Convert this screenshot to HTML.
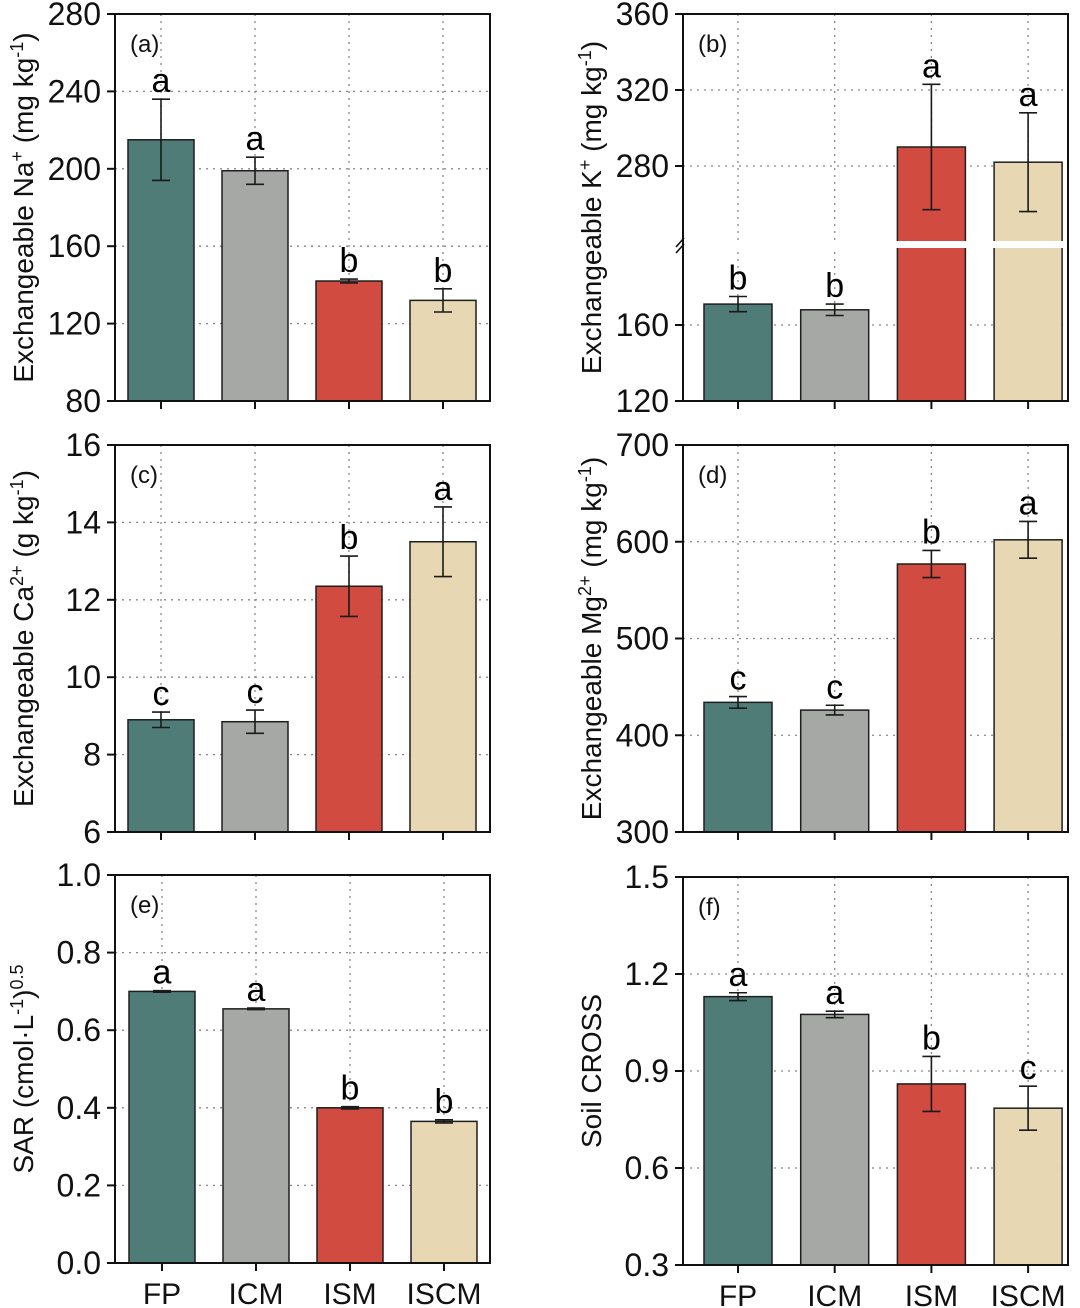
<!DOCTYPE html>
<html><head><meta charset="utf-8"><style>
html,body{margin:0;padding:0;background:#fff;}
svg{display:block;font-family:"Liberation Sans",Arial,sans-serif;}
</style></head><body>
<svg id="fig" width="1080" height="1308" viewBox="0 0 1080 1308" xmlns="http://www.w3.org/2000/svg"></svg>
<script>
const categories = ["FP","ICM","ISM","ISCM"];
const barColors = ["#4f7c77","#a6a8a6","#d14b40","#e7d7b3"];
// panel data
const naValues = [215,199,142,132];
const naErrors = [21,7,1,6];
const naLetters = ["a","a","b","b"];
const naTicks = [80,120,160,200,240,280];
const kValues = [171,168,290,282];
const kErrors = [4,3,33,26];
const kLetters = ["b","b","a","a"];
const kTicks = [120,160,280,320,360];
const caValues = [8.9,8.85,12.35,13.5];
const caErrors = [0.2,0.3,0.78,0.9];
const caLetters = ["c","c","b","a"];
const caTicks = [6,8,10,12,14,16];
const mgValues = [434,426,577,602];
const mgErrors = [6,5,14,19];
const mgLetters = ["c","c","b","a"];
const mgTicks = [300,400,500,600,700];
const sarValues = [0.70,0.655,0.40,0.365];
const sarErrors = [0.002,0.002,0.003,0.004];
const sarLetters = ["a","a","b","b"];
const sarTicks = ["0.0","0.2","0.4","0.6","0.8","1.0"];
const crossValues = [1.13,1.075,0.86,0.785];
const crossErrors = [0.012,0.01,0.085,0.068];
const crossLetters = ["a","a","b","c"];
const crossTicks = ["0.3","0.6","0.9","1.2","1.5"];

const NS="http://www.w3.org/2000/svg";
const svg=document.getElementById('fig');
function mk(tag,attrs,parent){const e=document.createElementNS(NS,tag);for(const k in attrs)e.setAttribute(k,attrs[k]);(parent||svg).appendChild(e);return e;}

const panels=[
 {id:'a',L:115,R:490,T:14,B:401,min:80,max:280,ticks:naTicks,vals:naValues,errs:naErrors,lets:naLetters,c0:46,sp:94,bw:66,tx:33,title:[["Exchangeable Na",0],["+",1],[" (mg kg",0],["-1",1],[")",0]]},
 {id:'b',L:683,R:1068,T:14,B:401,min:120,max:360,ticks:kTicks,vals:kValues,errs:kErrors,lets:kLetters,c0:55,sp:96.7,bw:68,tx:601,brk:true,title:[["Exchangeable K",0],["+",1],["  (mg kg",0],["-1",1],[")",0]]},
 {id:'c',L:115,R:490,T:445,B:832,min:6,max:16,ticks:caTicks,vals:caValues,errs:caErrors,lets:caLetters,c0:46,sp:94,bw:66,tx:33,title:[["Exchangeable Ca",0],["2+",1],["  (g kg",0],["-1",1],[")",0]]},
 {id:'d',L:683,R:1068,T:445,B:832,min:300,max:700,ticks:mgTicks,vals:mgValues,errs:mgErrors,lets:mgLetters,c0:55,sp:96.7,bw:68,tx:601,title:[["Exchangeable Mg",0],["2+",1],["  (mg kg",0],["-1",1],[")",0]]},
 {id:'e',L:115,R:490,T:875,B:1263,min:0,max:1.0,ticks:sarTicks,vals:sarValues,errs:sarErrors,lets:sarLetters,c0:47,sp:94,bw:66,tx:33,xl:true,title:[["SAR (cmol·L",0],["-1",1],[")",0],["0.5",1]]},
 {id:'f',L:683,R:1068,T:877,B:1265,min:0.3,max:1.5,ticks:crossTicks,vals:crossValues,errs:crossErrors,lets:crossLetters,c0:55,sp:96.7,bw:68,tx:601,xl:true,title:[["Soil CROSS",0]]}
];

panels.forEach(p=>{
  const g=mk('g',{});
  
  
  let yS;
  if(p.brk){
    const k=1.9;
    yS=v=> v<=205 ? p.B-(v-p.min)*k : p.T+(p.max-v)*k;
  } else {
    yS=v=>p.B-(v-p.min)/(p.max-p.min)*(p.B-p.T);
  }
  const xC=i=>p.L+p.c0+i*p.sp;
  p.ticks.forEach(t=>{const v=+t;if(v===p.min||v===p.max)return;
    const l=mk('line',{x1:p.L,x2:p.R,y1:yS(v),y2:yS(v),stroke:'#888','stroke-width':1.3,'stroke-dasharray':'2 5'},g);
    });
  categories.forEach((c,i)=>{const l=mk('line',{x1:xC(i),x2:xC(i),y1:p.T,y2:p.B,stroke:'#888','stroke-width':1.3,'stroke-dasharray':'2 5'},g);
    });
  categories.forEach((c,i)=>{
    const v=p.vals[i],e=p.errs[i],x=xC(i);
    const r=mk('rect',{x:x-p.bw/2,y:yS(v),width:p.bw,height:p.B-yS(v),fill:barColors[i],stroke:'#1e1e1e','stroke-width':1.5},g);
    
    const yt=yS(v+e),yb=yS(v-e);
    const eb=mk('path',{d:`M${x},${yt}V${yb}M${x-9},${yt}H${x+9}M${x-9},${yb}H${x+9}`,stroke:'#1a1a1a','stroke-width':1.6,fill:'none'},g);
    
    const lt=mk('text',{x:x,y:yt-7,'text-anchor':'middle','font-size':34},g);lt.textContent=p.lets[i];
    
  });
  if(p.brk){
    const by=245;
    const w=mk('rect',{x:p.L+1,y:by-4,width:p.R-p.L-2,height:7,fill:'#fff'},g);
    
    const bm=mk('path',{d:`M${p.L-7},${by+2}L${p.L+1},${by-7}M${p.L-7},${by+8}L${p.L+1},${by-1}`,stroke:'#111','stroke-width':1.6},g);
    
  }
  const fr=mk('rect',{x:p.L,y:p.T,width:p.R-p.L,height:p.B-p.T,fill:'none',stroke:'#111','stroke-width':2},g);
  
  p.ticks.forEach(t=>{const y=yS(+t);
    mk('line',{x1:p.L-8,x2:p.L,y1:y,y2:y,stroke:'#111','stroke-width':2},g);
    const tl=mk('text',{x:p.L-14,y:y+11,'text-anchor':'end','font-size':32,fill:'#111'},g);tl.textContent=t;
    });
  categories.forEach((c,i)=>{mk('line',{x1:xC(i),x2:xC(i),y1:p.B,y2:p.B+8,stroke:'#111','stroke-width':2},g);
    if(p.xl){const xl=mk('text',{x:xC(i),y:p.B+41,'text-anchor':'middle','font-size':30,fill:'#111'},g);xl.textContent=c;
      }});
  const pl=mk('text',{x:p.L+15,y:p.T+38,'font-size':24,fill:'#111'},g);pl.textContent='('+p.id+')';
  
  const cy=(p.T+p.B)/2;
  const tt=mk('text',{x:0,y:0,'text-anchor':'middle','font-size':28,fill:'#111',transform:`translate(${p.tx},${cy}) rotate(-90)`},g);
  
  p.title.forEach(([s,sup])=>{const ts=mk('tspan',sup?{'font-size':18,'baseline-shift':'super'}:{},tt);ts.textContent=s;});
});
</script>
</body></html>
